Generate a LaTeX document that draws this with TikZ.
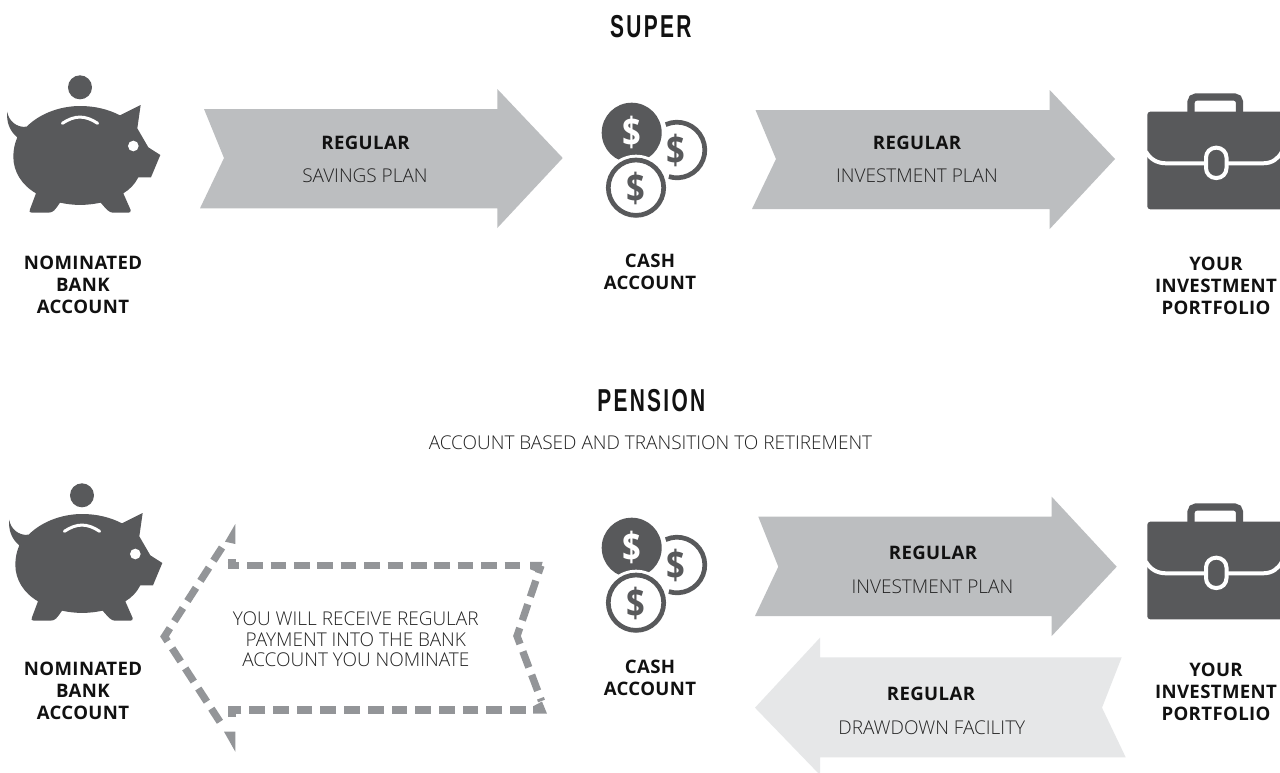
\documentclass[tikz,border=0pt]{standalone}
\usepackage{fontspec}
\setmainfont{Open Sans}
\newfontfamily\titlefont[LetterSpace=11]{Liberation Sans Bold}
\newfontfamily\boldfont[LetterSpace=2]{Open Sans Bold}
\newfontfamily\lightfont{Open Sans Light}
\newfontfamily\dollarfont{Open Sans Bold}
\definecolor{icon}{HTML}{58595B}
\definecolor{arrowmid}{HTML}{BCBEC0}
\definecolor{arrowlight}{HTML}{E6E7E8}
\definecolor{dashgrey}{HTML}{939598}
\definecolor{ink}{HTML}{111111}
\definecolor{inklight}{HTML}{222222}
\tikzset{
  boldlabel/.style={align=center,text=ink,font=\fontsize{18.6}{21.7}\boldfont,inner sep=0pt},
  lighttext/.style={align=center,text=inklight,font=\fontsize{19}{20.8}\lightfont,inner sep=0pt},
  heading/.style={text=ink,font=\fontsize{31.7}{32}\titlefont,inner sep=0pt,xscale=.66},
  flowmid/.style={fill=arrowmid,draw=none},
  flowlight/.style={fill=arrowlight,draw=none},
  dashline/.style={draw=dashgrey,line width=7.3pt},
  iconfill/.style={fill=icon,draw=none},
  dollar/.style={inner sep=0pt,font=\fontsize{40}{40}\dollarfont,xscale=.82},
}
\newcommand{\pigicon}[2]{%
\begin{scope}[shift={(#1,#2)},x=.3333pt,y=-.3333pt]
  \fill[icon] (240,82) circle[radius=36];
  \fill[icon] (22,155) .. controls (24,180) and (50,205) .. (80,200)
    .. controls (125,155) and (190,138) .. (240,138)
    .. controls (285,138) and (325,148) .. (360,166) -- (422,135) -- (412,205)
    -- (445,262) -- (481,285) -- (453,352) -- (415,352)
    .. controls (405,372) and (390,388) .. (370,400) -- (392,450)
    .. controls (393,456) and (390,458) .. (385,458) -- (340,458)
    .. controls (330,458) and (325,455) .. (302,428)
    .. controls (260,437) and (220,437) .. (180,428)
    .. controls (165,450) and (160,458) .. (145,458) -- (95,458)
    .. controls (88,458) and (87,454) .. (90,448) -- (108,400)
    .. controls (65,375) and (40,335) .. (40,290)
    .. controls (40,270) and (44,250) .. (52,232)
    .. controls (30,215) and (18,185) .. (22,155) -- cycle;
  \fill[white] (400,258) circle[radius=16];
  \draw[white,line width=3pt,line cap=round] (187,190) .. controls (225,165) and (255,165) .. (293,190);
\end{scope}}
\newcommand{\coinicon}[3]{%
\begin{scope}[shift={(#1,#2)}]
  \draw[icon,line width=4.7pt] (87,60) ++(-114:27.8) arc[start angle=-114,end angle=107,radius=27.8];
  \fill[icon] (41.7,42.7) circle[radius=30];
  \fill[white] (46,97.7) circle[radius=33];
  \draw[icon,line width=4.7pt] (46,97.7) circle[radius=27.7];
  \node[dollar,text=white] (#3a) at (41.7,42.5) {\$};
  \node[dollar,text=icon] (#3b) at (86,60.5) {\$};
  \node[dollar,text=icon] (#3c) at (46,98) {\$};
\end{scope}}
\newcommand{\caseicon}[2]{%
\begin{scope}[shift={(#1,#2)}]
  \draw[icon,line width=7.3pt,rounded corners=5pt] (61,36) -- (61,17) -- (109.5,17) -- (109.5,36);
  \fill[icon,rounded corners=3pt] (17.3,31.7) rectangle (155,129.3);
  \draw[white,line width=4pt] (152,71.7) .. controls (148,79) and (142,83.3) .. (133,83.3) -- (96.5,83.3)
    (76,83.3) -- (36,83.3) .. controls (27,83.3) and (20,79) .. (16,71.7);
  \draw[white,line width=4pt,rounded corners=9.9pt] (76,67.7) rectangle (96.5,98);
\end{scope}}
\begin{document}
\begin{tikzpicture}[x=1pt,y=-1pt]
\useasboundingbox (0,0) rectangle (1280,772);
\fill[white] (0,0) rectangle (1280,772);

\node[heading] (super) at (650.8,27) {SUPER};
\node[heading] (pension) at (651.3,401) {PENSION};
\node[lighttext] (subtitle) at (650.5,442.3) {ACCOUNT BASED AND TRANSITION TO RETIREMENT};

% top row
\pigicon{0}{60}
\coinicon{590}{90}{ca}
\caseicon{1130}{80}
\fill[flowmid] (204,109) -- (497.3,109) -- (497.3,89) -- (562.7,158) -- (497.3,228) -- (497.3,208.3) -- (200,208.3) -- (224,158) -- cycle;
\fill[flowmid] (755.5,110) -- (1049.7,110) -- (1049.7,90) -- (1115,159) -- (1049.7,229) -- (1049.7,209) -- (752,209) -- (776,159) -- cycle;
\node[boldlabel] (r1) at (365.5,142.4) {REGULAR};
\node[lighttext] (s1) at (365,175.7) {SAVINGS PLAN};
\node[boldlabel] (r2) at (917,142.4) {REGULAR};
\node[lighttext] (s2) at (917,175.7) {INVESTMENT PLAN};
\node[boldlabel] (n1) at (83,284.8) {NOMINATED\\BANK\\ACCOUNT};
\node[boldlabel] (c1) at (650,271.8) {CASH\\ACCOUNT};
\node[boldlabel] (y1) at (1216,285.8) {YOUR\\INVESTMENT\\PORTFOLIO};

% bottom row
\pigicon{2}{468}
\coinicon{590}{505}{cb}
\caseicon{1130}{490}
\fill[flowmid] (758.3,516.7) -- (1051.7,516.7) -- (1051.7,496.7) -- (1116.7,566.7) -- (1051.7,636) -- (1051.7,616) -- (755,616) -- (778.3,566.7) -- cycle;
\fill[flowlight] (820,637.7) -- (755,707.7) -- (820,775) -- (820,757.3) -- (1125.7,757.3) -- (1102,707.7) -- (1121.7,657.3) -- (820,657.3) -- cycle;
\node[boldlabel] (r3) at (933,553) {REGULAR};
\node[lighttext] (s3) at (932.5,586.7) {INVESTMENT PLAN};
\node[boldlabel] (r4) at (931,694) {REGULAR};
\node[lighttext] (s4) at (931.8,727.7) {DRAWDOWN FACILITY};
\node[boldlabel] (n2) at (83,690.8) {NOMINATED\\BANK\\ACCOUNT};
\node[boldlabel] (c2) at (650,677.8) {CASH\\ACCOUNT};
\node[boldlabel] (y2) at (1216,691.8) {YOUR\\INVESTMENT\\PORTFOLIO};

% dashed return arrow
\node[lighttext] (pay) at (355.8,639.3) {YOU WILL RECEIVE REGULAR\\PAYMENT INTO THE BANK\\ACCOUNT YOU NOMINATE};
\fill[dashgrey] (235.3,524) -- (235.3,544) -- (225,541.7) -- cycle;
\fill[dashgrey] (235.3,751.7) -- (235.3,731.7) -- (224,731.7) -- cycle;
\draw[dashline,dash pattern=on 15.7pt off 7.7pt,dash phase=4pt] (227.7,565.5) -- (521.5,565.5);
\fill[dashgrey] (227.7,558.5) rectangle (236,562);
\fill[dashgrey] (530,561.85) -- (542.7,561.85) -- (539.5,573) -- (530,569.15) -- cycle;
\draw[dashline,dash pattern=on 17pt off 8pt,dash phase=9pt] (541,565.5) -- (517,636) -- (541.5,701);
\draw[dashline,dash pattern=on 15.7pt off 8pt] (525.7,710) -- (227.7,710);
\fill[dashgrey] (227.7,713) rectangle (236,717.3);
\fill[dashgrey] (533,713.65) -- (547,713.65) -- (542,701.5) -- (533,706.35) -- cycle;
\draw[dashline,dash pattern=on 15.7pt off 8.3pt] (222,547.5) -- (164.5,636.5) -- (222,725);
\end{tikzpicture}
\end{document}
